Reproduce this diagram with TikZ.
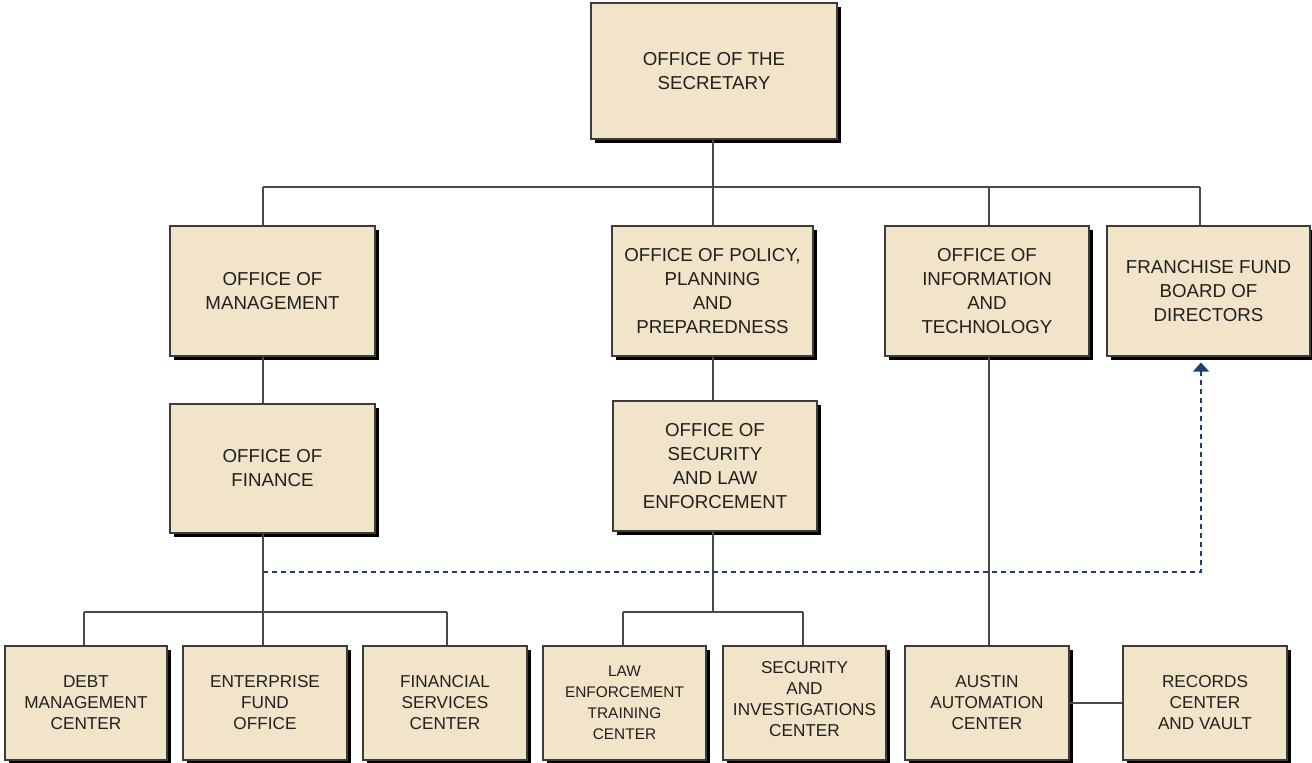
\documentclass[tikz,border=0pt]{standalone}
\usepackage{fontspec}
\setmainfont{Liberation Sans}
\usetikzlibrary{shadows,arrows.meta}
\definecolor{boxfill}{HTML}{F1E4C8}
\definecolor{boxedge}{HTML}{3C3C3C}
\definecolor{linecol}{HTML}{4A4A4A}
\definecolor{navy}{HTML}{1F3F6E}
\definecolor{txt}{HTML}{202020}
\begin{document}
\begin{tikzpicture}[x=1pt,y=-1pt,
  box/.style={draw=boxedge, line width=1.1pt, fill=boxfill, align=center, inner sep=0pt, text=txt,
    drop shadow={shadow xshift=3.5pt, shadow yshift=-3.5pt, fill=black, opacity=1},
    font=\fontsize{18.7}{24}\selectfont},
  smallbox/.style={box, minimum width=164pt, minimum height=114pt, font=\fontsize{17.2}{21}\selectfont},
  conn/.style={draw=linecol, line width=1.2pt},
  dashconn/.style={draw=navy, line width=1.2pt, dash pattern=on 5pt off 4pt,
    -{Triangle[width=16pt,length=9pt,fill=navy]}}]
\useasboundingbox (0,0) rectangle (1312,763);

% top
\node[box, minimum width=246pt, minimum height=136pt] (sec) at (714,71) {OFFICE OF THE\\SECRETARY};
% second row
\node[box, minimum width=205pt, minimum height=130pt] (mgmt) at (272.5,291) {OFFICE OF\\MANAGEMENT};
\node[box, minimum width=201pt, minimum height=130pt] (pol) at (712.5,291) {OFFICE OF POLICY,\\PLANNING\\AND\\PREPAREDNESS};
\node[box, minimum width=204pt, minimum height=130pt] (oit) at (987,291) {OFFICE OF\\INFORMATION\\AND\\TECHNOLOGY};
\node[box, minimum width=203pt, minimum height=130pt] (ffb) at (1208.5,291) {FRANCHISE FUND\\BOARD OF\\DIRECTORS};
% third row
\node[box, minimum width=205pt, minimum height=129pt] (fin) at (272.5,468.5) {OFFICE OF\\FINANCE};
\node[box, minimum width=204pt, minimum height=130pt] (sle) at (715,466) {OFFICE OF\\SECURITY\\AND LAW\\ENFORCEMENT};
% bottom row
\node[smallbox, minimum width=162pt] (debt) at (86,703) {DEBT\\MANAGEMENT\\CENTER};
\node[smallbox] (efo) at (265,703) {ENTERPRISE\\FUND\\OFFICE};
\node[smallbox] (fsc) at (445,703) {FINANCIAL\\SERVICES\\CENTER};
\node[smallbox, minimum width=163pt, font=\fontsize{15.4}{21}\selectfont] (letc) at (624.5,703) {LAW\\ENFORCEMENT\\TRAINING\\CENTER};
\node[smallbox, minimum width=163pt] (sic) at (804.5,703) {SECURITY\\AND\\INVESTIGATIONS\\CENTER\\[-13pt]};
\node[smallbox] (aac) at (987,703) {AUSTIN\\AUTOMATION\\CENTER};
\node[smallbox] (rcv) at (1205,703) {RECORDS\\CENTER\\AND VAULT};

% bus coordinates
\coordinate (busL) at (263,187);
\coordinate (busR) at (1200,187);
\coordinate (busO) at (989,187);
\coordinate (busC) at (713,187);
\coordinate (finbus) at (263,612);
\coordinate (debtd) at (84,612);
\coordinate (fscd) at (447,612);
\coordinate (slebus) at (713,612);
\coordinate (letcd) at (623,612);
\coordinate (sicd) at (803,612);
\coordinate (dstart) at (263,572);
\coordinate (dcorner) at (1201,572);

% connectors
\draw[conn] (sec.south -| busC) -- (busC);
\draw[conn] (busL) -- (busR);
\draw[conn] (busL) -- (busL |- mgmt.north);
\draw[conn] (busC) -- (busC |- pol.north);
\draw[conn] (busO) -- (busO |- oit.north);
\draw[conn] (busR) -- (busR |- ffb.north);
\draw[conn] (busL |- mgmt.south) -- (busL |- fin.north);
\draw[conn] (busC |- pol.south) -- (busC |- sle.north);
\draw[conn] (busO |- oit.south) -- (busO |- aac.north);
\draw[conn] (busL |- fin.south) -- (finbus);
\draw[conn] (debtd) -- (fscd);
\draw[conn] (debtd) -- (debtd |- debt.north);
\draw[conn] (finbus) -- (finbus |- efo.north);
\draw[conn] (fscd) -- (fscd |- fsc.north);
\draw[conn] (slebus |- sle.south) -- (slebus);
\draw[conn] (letcd) -- (sicd);
\draw[conn] (letcd) -- (letcd |- letc.north);
\draw[conn] (sicd) -- (sicd |- sic.north);
\draw[conn] (aac.east) -- (rcv.west);
% dashed
\draw[dashconn] (dstart) -- (dcorner) -- ([yshift=-6pt]dcorner |- ffb.south);
\end{tikzpicture}
\end{document}
